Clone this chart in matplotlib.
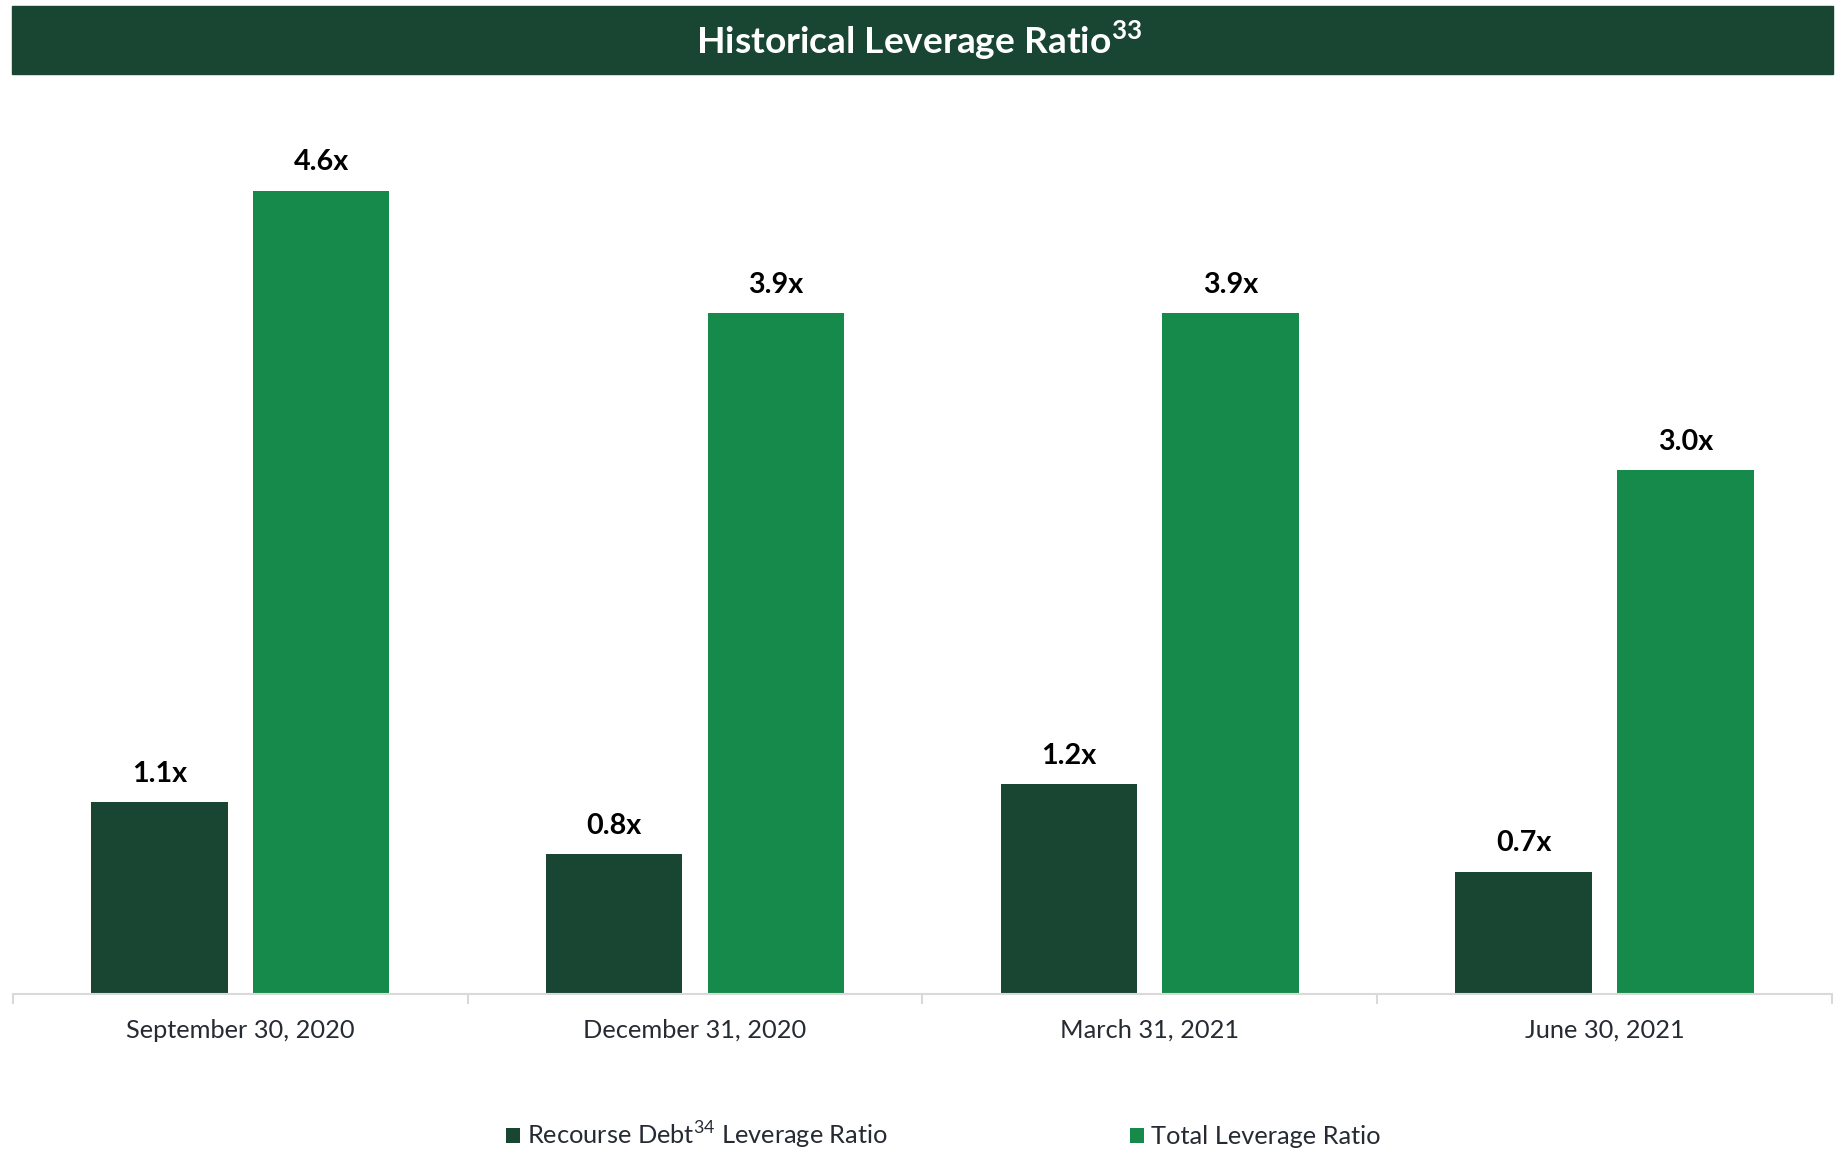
import numpy as np
import matplotlib.pyplot as plt
from matplotlib.patches import Rectangle

plt.rcParams['font.family'] = ['Lato', 'DejaVu Sans']
plt.rcParams['mathtext.fontset'] = 'custom'
plt.rcParams['mathtext.rm'] = 'Lato'
plt.rcParams['mathtext.bf'] = 'Lato:weight=bold'

categories = ["September 30, 2020", "December 31, 2020", "March 31, 2021", "June 30, 2021"]
recourse = [1.1, 0.8, 1.2, 0.7]
total = [4.6, 3.9, 3.9, 3.0]
series_names = ["Recourse Debt$^{34}$ Leverage Ratio", "Total Leverage Ratio"]

dark = "#184632"
green = "#158a4a"
txt = "#262b33"

fig = plt.figure(figsize=(18.39, 11.52), dpi=100)
ax = fig.add_axes([0.00707, 0.1372, 0.989, 0.758])

x = np.arange(len(categories))
w = 0.30
b1 = ax.bar(x - 0.178, recourse, w, color=dark, label=series_names[0])
b2 = ax.bar(x + 0.178, total, w, color=green, label=series_names[1])

for bars, vals in ((b1, recourse), (b2, total)):
    for r, v in zip(bars, vals):
        ax.annotate(f"{v:.1f}x", (r.get_x() + r.get_width() / 2, v),
                    xytext=(0, 11), textcoords="offset points",
                    ha="center", va="bottom", fontsize=20.7, fontweight="bold", color="black")

ax.set_xlim(-0.5, len(categories) - 0.5)
ax.set_ylim(0, 5)
ax.set_yticks([])
for s in ("top", "right", "left"):
    ax.spines[s].set_visible(False)
ax.spines["bottom"].set_color("#d9d9d9")
ax.spines["bottom"].set_linewidth(1.5)
ax.set_xticks(x)
ax.set_xticklabels(categories, fontsize=18.3, color=txt)
ax.tick_params(axis="x", which="major", length=0, pad=18)
ax.set_xticks(np.arange(len(categories) + 1) - 0.5, minor=True)
ax.tick_params(axis="x", which="minor", length=7, width=1.5, color="#d9d9d9")

# title band
fig.patches.append(Rectangle((0.0065, 1 - 74 / 1152), 0.9905, 68 / 1152,
                             transform=fig.transFigure, color=dark, zorder=0))
fig.text(0.5, 1 - 41 / 1152, "Historical Leverage Ratio$^{\\mathbf{33}}$", ha="center", va="center",
         fontsize=26.7, fontweight="bold", color="white")

leg = fig.legend(handles=[b1, b2], loc="center", bbox_to_anchor=(0.513, 1 - 1135 / 1152),
                 ncol=2, frameon=False, fontsize=18.3, handlelength=0.55, handleheight=0.55,
                 handletextpad=0.3, columnspacing=9.5)
for t in leg.get_texts():
    t.set_color(txt)

plt.savefig("out.png", dpi=100)
